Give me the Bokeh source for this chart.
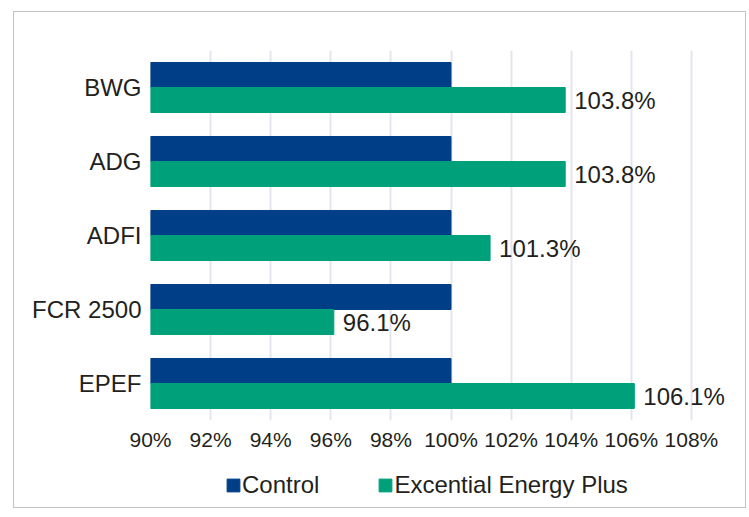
from bokeh.plotting import figure
from bokeh.layouts import column
from bokeh.models import (FactorRange, Range1d, FixedTicker, PrintfTickFormatter,
                          Legend, LegendItem, ColumnDataSource)
from bokeh.transform import dodge
from bokeh.core.properties import value
from bokeh.embed import file_html
from bokeh.resources import INLINE

# ---- data ----
categories = ["BWG", "ADG", "ADFI", "FCR 2500", "EPEF"]
control = [100, 100, 100, 100, 100]
excential = [103.8, 103.8, 101.3, 96.1, 106.1]
series_names = ["Control", "Excential Energy Plus"]
x_ticks = [90, 92, 94, 96, 98, 100, 102, 104, 106, 108]
x_start, x_end = 90, 109.5

BLUE = "#003F87"
GREEN = "#00A07A"
TEXT = "#231F20"
FONT = "Liberation Sans"

src = ColumnDataSource(dict(
    cat=categories,
    control=control,
    excential=excential,
    base=[x_start] * len(categories),
    label=[f"{v:.1f}%" for v in excential],
))

p = figure(width=731, height=442, output_backend="svg", toolbar_location=None,
           y_range=FactorRange(factors=list(reversed(categories)), range_padding=0),
           x_range=Range1d(x_start, x_end),
           min_border_left=136, min_border_right=9, min_border_top=38, min_border_bottom=34)
p.outline_line_color = None
p.background_fill_color = "white"
p.border_fill_color = "white"

r1 = p.hbar(y=dodge("cat", 0.169, range=p.y_range), left="base", right="control",
            height=0.338, color=BLUE, source=src)
r2 = p.hbar(y=dodge("cat", -0.169, range=p.y_range), left="base", right="excential",
            height=0.338, color=GREEN, source=src)

p.text(x="excential", y=dodge("cat", -0.169, range=p.y_range), text="label",
       x_offset=9, text_baseline="middle", text_align="left",
       text_font=value(FONT), text_font_size="24px", text_color=TEXT, source=src)

# grid
p.ygrid.grid_line_color = None
p.xgrid.ticker = FixedTicker(ticks=x_ticks)
p.xgrid.grid_line_color = "#E4E4EF"
p.xgrid.grid_line_width = 2

# x axis
p.xaxis.ticker = FixedTicker(ticks=x_ticks)
p.xaxis.formatter = PrintfTickFormatter(format="%d%%")
p.xaxis.axis_line_color = None
p.xaxis.major_tick_line_color = None
p.xaxis.minor_tick_line_color = None
p.xaxis.major_tick_out = 0
p.xaxis.minor_tick_out = 0
p.xaxis.major_label_text_font = FONT
p.xaxis.major_label_text_font_size = "21px"
p.xaxis.major_label_text_color = TEXT
p.xaxis.major_label_standoff = 7

# y axis
p.yaxis.axis_line_color = None
p.yaxis.major_tick_line_color = None
p.yaxis.minor_tick_line_color = None
p.yaxis.major_tick_out = 0
p.yaxis.minor_tick_out = 0
p.yaxis.major_label_text_font = FONT
p.yaxis.major_label_text_font_size = "24px"
p.yaxis.major_label_text_color = TEXT
p.yaxis.major_label_standoff = 9

# ---- legend strip (its frame is aligned with the main plot's frame) ----
q = figure(width=731, height=53, output_backend="svg", toolbar_location=None,
           x_range=Range1d(0, 1), y_range=Range1d(0, 1),
           x_axis_location=None, y_axis_location=None,
           min_border=0)
q.grid.visible = False
q.outline_line_color = None
q.background_fill_color = "white"
q.border_fill_color = "white"
# hidden swatch renderers for the legend
l1 = q.hbar(y="control", left="base", right="control", height=0.5, color=BLUE,
            source=src, visible=False)
l2 = q.hbar(y="control", left="base", right="excential", height=0.5, color=GREEN,
            source=src, visible=False)

legend = Legend(items=[LegendItem(label=series_names[0], renderers=[l1]),
                       LegendItem(label=series_names[1], renderers=[l2])],
                orientation="horizontal", location=(75, 8),
                glyph_width=16, glyph_height=16, label_standoff=1, spacing=58,
                padding=0, margin=0,
                label_text_font=FONT, label_text_font_size="24px",
                label_text_color=TEXT, inactive_fill_alpha=0,
                border_line_color=None, background_fill_alpha=0)
q.add_layout(legend, "center")

layout = column(p, q, spacing=0)
layout.margin = (11, 0, 0, 13)
layout.styles = {"border": "1px solid #c2c2c2"}

open("out.html", "w").write(file_html(layout, INLINE))
